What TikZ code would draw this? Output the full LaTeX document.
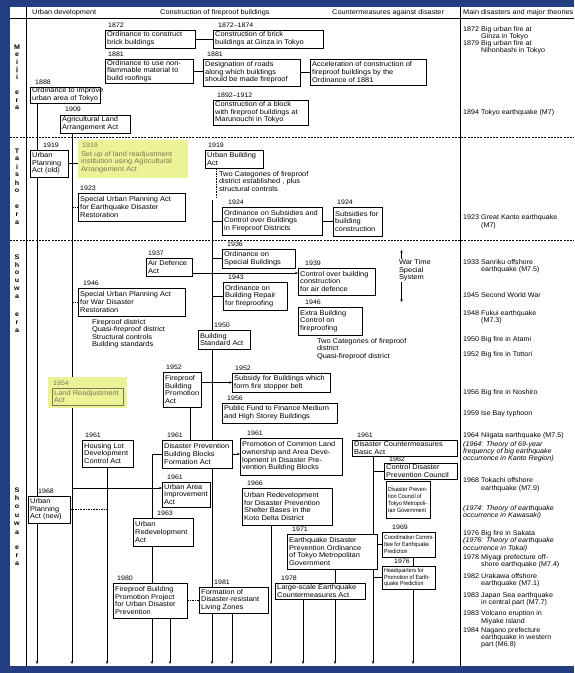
\documentclass[tikz,border=0pt]{standalone}
\usepackage{fontspec}
\setmainfont{Liberation Sans}[FakeStretch=1.08]
\newfontfamily\condfont{Liberation Sans}[FakeStretch=0.88]
\newfontfamily\disfont{Liberation Sans}[FakeStretch=1.05]
\usetikzlibrary{arrows.meta}
\pgfdeclarelayer{back}
\pgfdeclarelayer{bg}
\pgfsetlayers{back,bg,main}
\definecolor{navy}{RGB}{34,62,128}
\definecolor{hlc}{RGB}{236,242,150}
\definecolor{hlt}{RGB}{120,122,88}
\newcommand\bx[7][]{%
  \node[boxs, anchor=north west, minimum width={#5-#3}, minimum height={#6-#4}] (#2) at (#3,#4) {};
  \node[txts, #1, anchor=west] (#2t) at ([xshift=1.2pt]#2.west) {#7};}
\newcommand\dis[4]{%
  \node[diss] (#1y) at (463,#2-4.9) {#3};
  \node[diss] (#1) at (481,#2-4.9) {#4};}
\begin{document}
\begin{tikzpicture}[x=1pt,y=-1pt,
  boxs/.style={draw, fill=white, line width=0.65pt, inner sep=0pt, outer sep=0pt},
  txts/.style={font=\fontsize{6.9}{7.6}\selectfont, align=left, inner sep=0.8pt},
  txc/.style={font=\condfont\fontsize{6.0}{6.9}\selectfont},
  yrs/.style={font=\fontsize{6.5}{7}\selectfont, inner sep=0pt, anchor=base west},
  diss/.style={font=\disfont\fontsize{6.8}{7.3}\selectfont, align=left, inner sep=0pt, anchor=north west},
  disi/.style={font=\disfont\itshape\fontsize{6.8}{7.3}\selectfont},
  era/.style={font=\bfseries\fontsize{6.6}{7}\selectfont, inner sep=0pt},
  hd/.style={font=\fontsize{6.8}{8}\selectfont, inner sep=0pt, anchor=west},
  hl/.style={fill=hlc, draw=none, inner sep=0pt, outer sep=0pt},
  ln/.style={line width=0.6pt},
  dsh/.style={dash pattern=on 1.6pt off 1pt},
  tip/.style={-{Stealth[length=3pt,width=2.4pt]}}]
\useasboundingbox (0,0) rectangle (574,673);
\begin{pgfonlayer}{back}
\fill[navy] (0,0) rectangle (574,673);
\fill[white] (10,7) rectangle (574,666);
\draw[ln] (10,18) -- (574,18);
\draw[ln] (26,7) -- (26,666);
\draw[line width=0.9pt] (460,7) -- (460,666);
\draw[line width=0.5pt, dash pattern=on 2pt off 1.2pt] (10,137.5) -- (574,137.5);
\draw[line width=0.5pt, dash pattern=on 2pt off 1.2pt] (10,240.5) -- (574,240.5);
\end{pgfonlayer}
% headers
\node[hd] (h1) at (32,12.5) {Urban development};
\node[hd] (h2) at (160,12.5) {Construction of fireproof buildings};
\node[hd] (h3) at (332,12.5) {Countermeasures against disaster};
\node[hd] (h4) at (463,12.5) {Main disasters and major theories};
% era letters
\foreach \c/\yy [count=\i] in {M/47,e/55,i/62.5,j/70,i/77.5,e/93,r/100.5,a/108}
  \node[era] (m\i) at (17,\yy) {\c};
\foreach \c/\yy [count=\i] in {T/151,a/159,i/167,s/175,h/183,o/191,e/207,r/215,a/223}
  \node[era] (t\i) at (17,\yy) {\c};
\foreach \c/\yy [count=\i] in {S/257,h/265,o/273,u/281,w/289,a/297,e/315,r/323,a/331}
  \node[era] (s\i) at (17,\yy) {\c};
\foreach \c/\yy [count=\i] in {S/490,h/498.5,o/507,u/515.5,w/524,a/532.5,e/548,r/556,a/564}
  \node[era] (u\i) at (17,\yy) {\c};
% Meiji
\bx{A1}{105}{30}{195}{48}{Ordinance to construct\\brick buildings}
\node[yrs] (A1y) at (108,27.5) {1872};
\bx{A2}{105}{59}{193}{83}{Ordinance to use non-\\flammable material to\\build roofings}
\node[yrs] (A2y) at (108,56.5) {1881};
\bx{A3}{30}{87}{100}{103}{Ordinance to improve\\urban area of Tokyo}
\node[yrs] (A3y) at (35,84.5) {1888};
\bx{A4}{60}{115}{130}{133}{Agricultural Land\\Arrangement Act}
\node[yrs] (A4y) at (65,111.5) {1909};
\bx{A5}{213}{30}{323}{48}{Construction of brick\\buildings at Ginza in Tokyo}
\node[yrs] (A5y) at (218,27.5) {1872--1874};
\bx{A6}{203}{59}{300}{86}{Designation of roads\\along which buildings\\should be made fireproof}
\node[yrs] (A6y) at (207,56.5) {1881};
\bx{A7}{310}{59}{426}{85}{Acceleration of construction of\\fireproof buildings by the\\Ordinance of 1881}
\bx{A8}{213}{100}{308}{125}{Construction of a block\\with fireproof buildings at\\Marunouchi in Tokyo}
\node[yrs] (A8y) at (217,97.5) {1892--1912};
% Taisho
\bx{B1}{30}{150}{68}{177}{Urban\\Planning\\Act (old)}
\node[yrs] (B1y) at (43,147.5) {1919};
\node[hl, anchor=north west, minimum width=110, minimum height=38] (B2) at (78,140) {};
\node[yrs, text=hlt] (B2y) at (82,147.5) {1919};
\node[txts, text=hlt, anchor=north west] (B2t) at (80,150) {Set up of land readjustment\\institution using Agricultural\\Arrangement Act};
\bx{B3}{78}{193}{185}{221}{Special Urban Planning Act\\for Earthquake Disaster\\Restoration}
\node[yrs] (B3y) at (80,190.5) {1923};
\bx{B4}{205}{150}{263}{168}{Urban Building\\Act}
\node[yrs] (B4y) at (208,147.5) {1919};
\node[txts, anchor=north west] (T1) at (218,170) {Two Categories of fireproof\\district established , plus\\structural controls};
\bx{B5}{222}{207}{322}{235}{Ordinance on Subsidies and\\Control over Buildings\\in Fireproof Districts}
\node[yrs] (B5y) at (228,204) {1924};
\bx{B6}{333}{207}{382}{236}{Subsidies for\\building\\construction}
\node[yrs] (B6y) at (337,204) {1924};
% Showa (prewar)
\bx{C1}{146}{258}{192}{276}{Air Defence\\Act}
\node[yrs] (C1y) at (148,255.5) {1937};
\bx{C2}{222}{249}{295}{268}{Ordinance on\\Special Buildings}
\node[yrs] (C2y) at (227,246.5) {1936};
\bx{C3}{298}{268}{375}{295}{Control over building\\construction\\for air defence}
\node[yrs] (C3y) at (305,265.5) {1939};
\bx{C4}{223}{282}{287}{310}{Ordinance on\\Building Repair\\for fireproofing}
\node[yrs] (C4y) at (228,279.5) {1943};
\bx{C5}{298}{307}{362}{335}{Extra Building\\Control on\\fireproofing}
\node[yrs] (C5y) at (305,304.5) {1946};
\node[txts, anchor=north west] (T2) at (316,337) {Two Categories of fireproof\\district\\Quasi-fireproof district};
\node[txts, anchor=west] (WT) at (398,270.5) {War Time\\Special\\System};
\coordinate (wtU) at (401.5,250);
\coordinate (wtD) at (401.5,302);
\bx{C6}{78}{288}{185}{316}{Special Urban Planning Act\\for War Disaster\\Restoration}
\node[yrs] (C6y) at (83,285.5) {1946};
\node[txts, anchor=north west] (T3) at (91,318) {Fireproof district\\Quasi-fireproof district\\Structural controls\\Building standards};
\bx{C7}{198}{330}{250}{349}{Building\\Standard Act}
\node[yrs] (C7y) at (214,327.5) {1950};
\node[hl, anchor=north west, minimum width=79, minimum height=31] (C8h) at (48,377) {};
\node[yrs, text=hlt] (C8y) at (53,385.5) {1954};
\node[boxs, draw=hlt, fill=none, anchor=north west, minimum width=71, minimum height=17] (C8) at (52,388) {};
\node[txts, text=hlt, anchor=west] (C8t) at ([xshift=1.2pt]C8.west) {Land Readjustment\\Act};
\bx{C9}{163}{372}{201}{407}{Fireproof\\Building\\Promotion\\Act}
\node[yrs] (C9y) at (166,369.5) {1952};
\bx{C10}{232}{373}{330}{392}{Subsidy for Buildings which\\form fire stopper belt}
\node[yrs] (C10y) at (235,370.5) {1952};
\bx{C11}{222}{403}{337}{423}{Public Fund to Finance Medium\\and High Storey Buildings}
\node[yrs] (C11y) at (227,400.5) {1956};
% Showa (postwar)
\bx{D1}{82}{440}{133}{467}{Housing Lot\\Development\\Control Act}
\node[yrs] (D1y) at (85,437) {1961};
\bx{D2}{162}{440}{232}{468}{Disaster Prevention\\Building Blocks\\Formation Act}
\node[yrs] (D2y) at (167,437) {1961};
\bx{D3}{240}{438}{342}{475}{Promotion of Common Land\\ownership and Area Deve-\\lopment in Disaster Pre-\\vention Building Blocks}
\node[yrs] (D3y) at (247,435.5) {1961};
\bx{D4}{352}{440}{457}{456}{Disaster Countermeasures\\Basic Act}
\node[yrs] (D4y) at (357,437) {1961};
\bx{D5}{384}{463.5}{457}{479}{Control Disaster\\Prevention Council}
\node[yrs] (D5y) at (389,461.5) {1962};
\bx[txc]{D6}{386}{481}{430}{518}{Disaster Preven-\\tion Council of\\Tokyo Metropoli-\\tan Government}
\bx[txc]{D7}{382}{532}{435}{557}{Coordination Commi-\\ttee for Earthquake\\Prediction}
\node[yrs] (D7y) at (392,529.5) {1969};
\bx[txc]{D8}{382}{566}{435}{589}{Headquarters for\\Promotion of Earth-\\quake Prediction}
\node[yrs] (D8y) at (394,563.5) {1976};
\bx{D9}{162}{482}{210}{507}{Urban Area\\Improvement\\Act}
\node[yrs] (D9y) at (167,479) {1961};
\bx{D10}{133}{518}{193}{546}{Urban\\Redevelopment\\Act}
\node[yrs] (D10y) at (157,515.5) {1963};
\bx{D11}{28}{496}{70}{523}{Urban\\Planning\\Act (new)}
\node[yrs] (D11y) at (38,493.5) {1968};
\bx{E1}{113}{583}{187}{618}{Fireproof Building\\Promotion Project\\for Urban Disaster\\Prevention}
\node[yrs] (E1y) at (117,580.5) {1980};
\bx{E2}{199}{587}{268}{613}{Formation of\\Disaster-resistant\\Living Zones}
\node[yrs] (E2y) at (214,584.5) {1981};
\bx{E3}{242}{488}{332}{525}{Urban Redevelopment\\for Disaster Prevention\\Shelter Bases in the\\Koto Delta District}
\node[yrs] (E3y) at (247,485.5) {1966};
\bx{E4}{287}{534}{377}{569}{Earthquake Disaster\\Prevention Ordinance\\of Tokyo Metropolitan\\Government}
\node[yrs] (E4y) at (292,531.5) {1971};
\bx{E5}{275}{583}{365}{599}{Large-scale Earthquake\\Countermeasures Act}
\node[yrs] (E5y) at (281,580.5) {1978};
% disasters column
\dis{d1}{31}{1872}{Big urban fire at\\Ginza in Tokyo}
\dis{d2}{45}{1879}{Big urban fire at\\Nihonbashi in Tokyo}
\dis{d3}{114}{1894}{Tokyo earthquake (M7)}
\dis{d4}{219.5}{1923}{Great Kanto earthquake\\(M7)}
\dis{d5}{264}{1933}{Sanriku offshore\\earthquake (M7.5)}
\dis{d6}{297.5}{1945}{Second World War}
\dis{d7}{315}{1948}{Fukui earthquake\\(M7.3)}
\dis{d8}{341.5}{1950}{Big fire in Atami}
\dis{d9}{356.5}{1952}{Big fire in Tottori}
\dis{d10}{394}{1956}{Big fire in Noshiro}
\dis{d11}{415}{1959}{Ise Bay typhoon}
\dis{d12}{437}{1964}{Niigata earthquake (M7.5)}
\node[diss,disi] (d12b) at (463,446-4.9) {(1964: Theory of 69-year\\frequency of big earthquake\\occurrence in Kanto Region)};
\dis{d13}{482.5}{1968}{Tokachi offshore\\earthquake (M7.9)}
\node[diss,disi] (d14) at (463,510-4.9) {(1974: Theory of earthquake\\occurrence in Kawasaki)};
\node[diss] (d15) at (463,535-4.9) {1976 Big fire in Sakata};
\node[diss,disi] (d15b) at (463,542.5-4.9) {(1976: Theory of earthquake\\occurrence in Tokai)};
\dis{d16}{559}{1978}{Miyagi prefecture off-\\shore earthquake (M7.4)}
\dis{d17}{578}{1982}{Urakawa offshore\\earthquake (M7.1)}
\dis{d18}{597}{1983}{Japan Sea earthquake\\in central part (M7.7)}
\dis{d19}{615.5}{1983}{Volcano eruption in\\Miyake Island}
\dis{d20}{632}{1984}{Nagano prefecture\\earthquake in western\\part (M6.8)}
% connector coordinates
\coordinate (k37) at (37,664);
\coordinate (k72) at (72,664);
\coordinate (k107) at (107,664);
\coordinate (k152) at (152,664);
\coordinate (k170) at (170,664);
\coordinate (k190) at (190,664);
\coordinate (k212) at (212,664);
\coordinate (k232) at (232,664);
\coordinate (k271) at (271,664);
\coordinate (k303) at (303,664);
\coordinate (k335) at (335,664);
\coordinate (k373) at (373,664);
\coordinate (k413) at (413,664);
\coordinate (k216) at (216,197);
\coordinate (j212) at (212,200);
\coordinate (c273) at (0,273);
\coordinate (c488) at (0,488);
\begin{pgfonlayer}{bg}
\draw[ln] (A1.east) -- (A1.east -| A5.west);
\draw[ln] (A2.east) -- (A2.east -| A6.west);
\draw[ln] (A6.east) -- (A6.east -| A7.west);
\draw[ln] (A3.south -| k37) -- (B1.north -| k37);
\draw[ln] (B1.south -| k37) -- (D11.north -| k37);
\draw[ln,tip] (D11.south -| k37) -- (k37);
\draw[ln,tip] (A4.south -| k72) -- (k72);
\draw[ln] (B1.east) -- (B1.east -| B2.west);
\draw[ln,dsh] (B3.west -| k72) -- (B3.west);
\draw[ln,dsh] (C6.west -| k72) -- (C6.west);
\draw[ln,dsh] (B4.south -| k216) -- (k216);
\draw[ln,tip] (j212) -- (k212);
\draw[ln] (B5.west -| k212) -- (B5.west);
\draw[ln] (B5.east) -- (B5.east -| B6.west);
\draw[ln] (C2.west -| k212) -- (C2.west);
\draw[ln] (C4.west -| k212) -- (C4.west);
\draw[ln,tip] (c273 -| C1.east) -- (c273 -| C3.west);
\draw[ln,tip] (WT.north west -| wtU) -- (wtU);
\draw[ln,tip] (WT.south west -| wtD) -- (wtD);
\draw[ln,tip] (C10.west -| C9.east) -- (C10.west);
\draw[ln] (C9.south -| k190) -- (D2.north -| k190);
\draw[ln] (D2.west -| k152) -- (D2.west);
\draw[ln,tip] (D2.east) -- (D2.east -| D3.west);
\draw[ln,tip] (D2.west -| k152) -- (k152);
\draw[ln,tip] (c488 -| k72) -- (c488 -| D9.west);
\draw[ln,dsh] (D11.east) -- (D11.east -| k107);
\draw[ln,tip] (D1.south -| k107) -- (k107);
\draw[ln,dsh] (E1.east) -- (E1.east -| E2.west);
\draw[ln,tip] (E1.south -| k170) -- (k170);
\draw[ln,tip] (E2.south -| k232) -- (k232);
\draw[ln,tip] (E3.south -| k271) -- (k271);
\draw[ln,tip] (E4.south -| k335) -- (k335);
\draw[ln,tip] (E5.south -| k303) -- (k303);
\draw[ln,tip] (D4.south -| k373) -- (k373);
\draw[ln] (D5.west -| k373) -- (D5.west);
\draw[ln] (D7.west -| k373) -- (D7.west);
\draw[ln] (D8.west -| k373) -- (D8.west);
\draw[ln] (D7.south -| k413) -- (D8.north -| k413);
\draw[ln,tip] (D8.south -| k413) -- (k413);
\end{pgfonlayer}
\end{tikzpicture}
\end{document}
